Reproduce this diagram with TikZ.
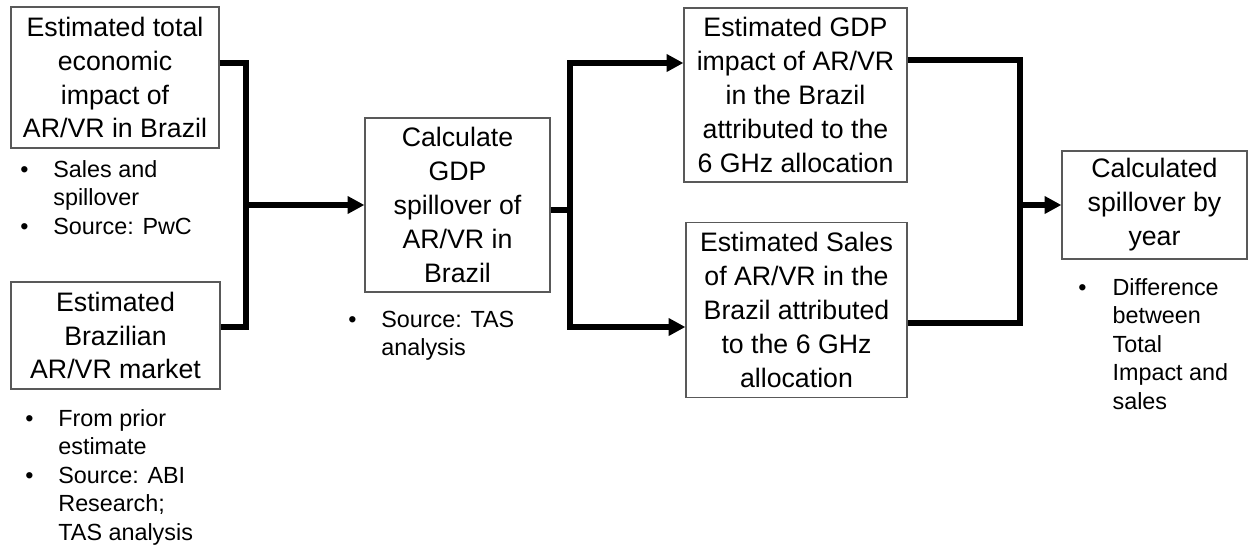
\documentclass[tikz,border=0pt]{standalone}
\usepackage{fontspec}
\setmainfont{Liberation Sans}
\usetikzlibrary{arrows.meta}

\newcommand{\notefont}{\fontsize{13.3}{16.3}\selectfont}

\begin{document}
\begin{tikzpicture}[x=0.02cm,y=-0.02cm,
    box/.style={draw=black!65,line width=0.7pt,fill=white,align=center,inner sep=0pt,
        font=\fontsize{15.2}{19.3}\selectfont},
    note/.style={anchor=base west,inner sep=0pt,font=\notefont},
    link/.style={line width=3.1pt},
    feed/.style={line width=3.1pt,-{Triangle[length=9.5pt,width=9.5pt]}}]

    \useasboundingbox (0,0) rectangle (1249,548);

    % boxes
    \node[box,minimum width=4.16cm,minimum height=2.82cm] (total) at (115,77.5)
        {Estimated total\\economic\\impact of\\AR/VR in Brazil};
    \node[box,minimum width=4.18cm,minimum height=2.14cm] (market) at (115.5,335.5)
        {Estimated\\Brazilian\\AR/VR market};
    \node[box,minimum width=3.7cm,minimum height=3.48cm] (calc) at (457.5,205)
        {Calculate\\GDP\\spillover of\\AR/VR in\\Brazil};
    \node[box,minimum width=4.46cm,minimum height=3.48cm] (gdp) at (795.5,95)
        {Estimated GDP\\impact of AR/VR\\in the Brazil\\attributed to the\\6 GHz allocation};
    \node[box,minimum width=4.42cm,minimum height=3.5cm] (sales) at (796.5,310)
        {Estimated Sales\\of AR/VR in the\\Brazil attributed\\to the 6 GHz\\allocation};
    \node[box,minimum width=3.7cm,minimum height=2.16cm] (spill) at (1154.5,205)
        {Calculated\\spillover by\\year};

    % notes
    \node[note] (totalnote) at (20,177) {\begin{tabular}[t]{@{}p{18.8pt}@{}l@{}}
        \textbullet & Sales and\\ & spillover\\ \textbullet & Source: PwC\end{tabular}};
    \node[note] (marketnote) at (25,426) {\begin{tabular}[t]{@{}p{18.8pt}@{}l@{}}
        \textbullet & From prior\\ & estimate\\ \textbullet & Source: ABI\\ & Research;\\ & TAS analysis\end{tabular}};
    \node[note] (calcnote) at (348,327) {\begin{tabular}[t]{@{}p{18.8pt}@{}l@{}}
        \textbullet & Source: TAS\\ & analysis\end{tabular}};
    \node[note] (spillnote) at (1078,295) {\begin{tabular}[t]{@{}p{19.5pt}@{}l@{}}
        \textbullet & Difference\\ & between\\ & Total\\ & Impact and\\ & sales\end{tabular}};

    % connectors
    \coordinate (jl) at (246,63);
    \coordinate (jlb) at (246,327);
    \draw[link] (total.east |- jl) -- (jl) -- (jlb) -- (market.east |- jlb);
    \draw[feed] (jl |- calc.west) -- (calc.west);

    \coordinate (jm) at (570,63);
    \coordinate (jmb) at (570,327);
    \coordinate (jc) at (570,210);
    \draw[link] (calc.east |- jc) -- (jc);
    \draw[link,{Triangle[length=9.5pt,width=9.5pt]}-{Triangle[length=9.5pt,width=9.5pt]}]
        (gdp.west |- jm) -- (jm) -- (jmb) -- (sales.west |- jmb);

    \coordinate (jr) at (1020,60);
    \coordinate (jrb) at (1020,323);
    \draw[link] (gdp.east |- jr) -- (jr) -- (jrb) -- (sales.east |- jrb);
    \draw[feed] (jr |- spill.west) -- (spill.west);
\end{tikzpicture}
\end{document}
